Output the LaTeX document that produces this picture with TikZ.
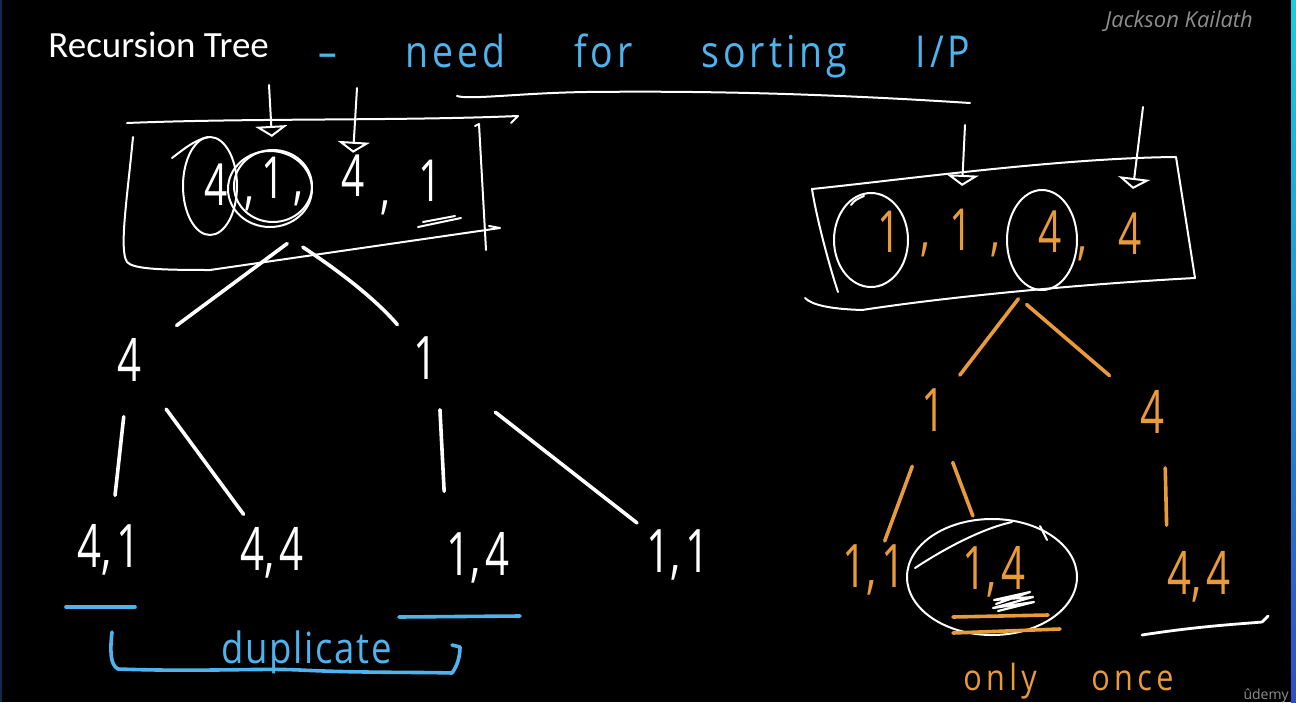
\documentclass[tikz,border=0pt]{standalone}
\usepackage{fontspec}
\setmainfont{Open Sans}
\newfontfamily\titlefont{Carlito}
\newfontfamily\handfont[FakeStretch=0.85, LetterSpace=9]{Open Sans}
\newfontfamily\handmid[FakeStretch=0.85, LetterSpace=12]{Open Sans}
\newfontfamily\handtight[FakeStretch=0.85, LetterSpace=4]{Open Sans}
\newfontfamily\digitfont[FakeStretch=0.7, WordSpace=0.4]{Open Sans}
\usetikzlibrary{positioning, arrows.meta}
\definecolor{chalkblue}{HTML}{4FB3EE}
\definecolor{chalkorange}{HTML}{E99A3A}
\definecolor{markgray}{HTML}{8E8E8E}
\definecolor{edgecyan}{HTML}{12D2E2}
\definecolor{edgeblue}{HTML}{2C4FC8}
\definecolor{edgenavy}{HTML}{0C2A52}

\begin{document}
\begin{tikzpicture}[x=0.5pt, y=-0.5pt, line cap=round, line join=round,
  chalk/.style={draw=white, line width=1pt},
  branch/.style={line width=1.8pt},
  digit/.style={font=\digitfont\fontsize{29}{31}\selectfont, inner sep=0pt},
  leaf/.style={font=\digitfont\fontsize{30}{32}\selectfont, inner sep=0pt},
  inarrow/.style={draw=white, line width=1pt, -{Triangle[open, length=5.5pt, width=16pt]}},
  scrawl/.style={font=\handfont\fontsize{22}{24}\selectfont, inner sep=0pt, anchor=base west}]

% board
\fill[black] (0,0) rectangle (1296,702);
\useasboundingbox (0,0) rectangle (1296,702);

% heading
\node[font=\titlefont\fontsize{18.5}{20}\selectfont, text=white, anchor=base west, inner sep=0pt] (title) at (48,57) {Recursion Tree};
\node[font=\itshape\fontsize{11}{13}\selectfont, text=markgray, anchor=base west, inner sep=0pt] (author) at (1105,27) {Jackson Kailath};
\node[scrawl, text=chalkblue] (need) at (318,67) {\makebox[326pt][l]{– \hfill need \hfill for \hfill sorting \hfill I/P}};
\draw[chalk] (457,96) .. controls (470,100) and (520,93) .. (586,92) .. controls (680,91) and (800,92) .. (970,103);

% left input box
\draw[chalk] (127,123) .. controls (250,118) and (400,121) .. (518,116) -- (511,123);
\draw[chalk] (133,137) .. controls (127,200) and (119,250) .. (127,262) .. controls (133,269) and (160,270) .. (210,270) -- (500,228) -- (489,226);
\draw[chalk] (475,126) -- (479,124) -- (486,250);

\node[digit, text=white] (a1) at (216,185) {4};
\node[digit, text=white] (c1) at (249,204) {,};
\node[digit, text=white] (a2) at (273,178) {1};
\node[digit, text=white] (c2) at (298,199) {,};
\node[digit, text=white] (a3) at (353,176) {4};
\node[digit, text=white] (c3) at (385,208) {,};
\node[digit, text=white] (a4) at (430,181) {1};

\draw[chalk] (210,186) ellipse [x radius=27, y radius=49];
\draw[chalk] (172,158) .. controls (185,148) and (195,140) .. (208,137);
\draw[chalk] (270,189) ellipse [x radius=42, y radius=38];
\draw[chalk] (273,186) ellipse [x radius=39, y radius=36];
\draw[chalk] (418,227) -- (461,218);
\draw[chalk] (423,222) -- (455,216);

\coordinate (a2top) at (269,85);
\coordinate (a3top) at (357,88);
\draw[inarrow, shorten >=10pt] (a2top) -- (a2.north);
\draw[inarrow, shorten >=1pt] (a3top) -- (a3.north);

% left tree
\coordinate (lroot) at (292,240);
\node[leaf, text=white] (n4) at (130,360) {4};
\node[leaf, text=white] (n1) at (426,358) {1};
\node[leaf, text=white] (l41) at (109,550) {4, 1};
\node[leaf, text=white] (l44) at (272,553) {4, 4};
\node[leaf, text=white] (l14) at (478,558) {1, 4};
\node[leaf, text=white] (l11) at (678,555) {1, 1};

\draw[branch, white, shorten <=3pt, shorten >=29pt] (lroot) -- (n4.center);
\draw[branch, white, shorten <=6.5pt, shorten >=22pt] (lroot) to[bend left=8] (n1.center);
\draw[branch, white, shorten <=28.5pt, shorten >=27.5pt] (n4.center) -- (l41.center);
\draw[branch, white, shorten <=30.5pt, shorten >=24pt] (n4.center) -- (l44.center);
\draw[branch, white, shorten <=15pt, shorten >=20.5pt] (n1.south east) -- (l14.north west);
\draw[branch, white, shorten <=44pt, shorten >=26pt] (n1.center) -- (l11.center);

\draw[chalkblue, branch] (66,607) -- (135,607);
\draw[chalkblue, branch] (399,617) -- (520,616);
\draw[chalkblue, branch] (112,632) .. controls (110,650) and (110,665) .. (118,669) .. controls (200,672) and (260,668) .. (300,670) .. controls (360,673) and (420,672) .. (452,673) .. controls (458,665) and (460,655) .. (460,647) -- (452,645);
\node[font=\handtight\fontsize{21.5}{23}\selectfont, text=chalkblue, anchor=base west, inner sep=0pt] (dup) at (221,663) {duplicate};

% right input box
\draw[chalk] (838,292) .. controls (828,262) and (816,215) .. (812,189) .. controls (900,180) and (1060,158) .. (1176,157) -- (1195,278) .. controls (1100,283) and (960,295) .. (862,310) .. controls (830,309) and (812,305) .. (805,298);

\node[digit, text=chalkorange] (r1) at (889,232) {1};
\node[digit, text=chalkorange] (d1) at (925,250) {,};
\node[digit, text=chalkorange] (r2) at (961,230) {1};
\node[digit, text=chalkorange] (d2) at (995,250) {,};
\node[digit, text=chalkorange] (r3) at (1050,232) {4};
\node[digit, text=chalkorange] (d3) at (1082,254) {,};
\node[digit, text=chalkorange] (r4) at (1130,234) {4};

\draw[chalk] (871,240) ellipse [x radius=37, y radius=47];
\draw[chalk] (851,205) .. controls (855,200) .. (864,196);
\draw[chalk] (1042,240) ellipse [x radius=35, y radius=50];

\coordinate (r2top) at (965,125);
\coordinate (r4top) at (1143,107);
\draw[inarrow, shorten >=11.5pt] (r2top) -- (r2.north);
\draw[inarrow, shorten >=12pt] (r4top) -- (r4.north);

% right tree
\coordinate (rroot) at (1019,298);
\node[leaf, text=chalkorange] (m1) at (933,410) {1};
\node[leaf, text=chalkorange] (m4) at (1152,412) {4};
\node[leaf, text=chalkorange] (k11) at (874,570) {1, 1};
\node[leaf, text=chalkorange] (k14) at (994,572) {1, 4};
\node[leaf, text=chalkorange] (k44) at (1199,577) {4, 4};

\draw[branch, chalkorange, shorten <=0.5pt, shorten >=22pt] (rroot) -- (m1.center);
\draw[branch, chalkorange, shorten <=5pt, shorten >=28pt] (rroot) -- (m4.center);
\draw[branch, chalkorange, shorten <=30pt, shorten >=15.5pt] (m1.center) -- (k11.center);
\draw[branch, chalkorange, shorten <=28pt, shorten >=30pt] (m1.center) -- (k14.center);
\draw[branch, chalkorange, shorten <=17pt, shorten >=13pt] (m4.south east) -- (k44.north west);

\draw[chalk] (992,577) ellipse [x radius=85, y radius=58];
\draw[chalk] (915,568) .. controls (950,545) and (985,528) .. (1012,522);
\draw[chalk] (1040,526) -- (1047,540);
\draw[chalk, line width=1.1pt] (996,604) -- (1030,592) -- (994,600) -- (1033,597) -- (993,608) -- (1034,602) -- (998,611);
\draw[chalkorange, branch] (953,617) -- (1048,615);
\draw[chalkorange, branch] (953,633) -- (1060,629);
\draw[chalk, line width=1.4pt] (1142,635) .. controls (1200,626) and (1240,624) .. (1262,622) -- (1268,616);
\node[scrawl, text=chalkorange, font=\handmid\fontsize{18}{20}\selectfont] (once) at (963,690) {\makebox[105pt][l]{only \hfill once}};

% frame edges
\node[font=\fontsize{7}{8}\selectfont, text=markgray, anchor=base east, inner sep=0pt] (brand) at (1289,699) {ûdemy};
\fill[edgenavy] (0,0) rectangle (2,702);
\shade[top color=edgecyan, bottom color=edgeblue] (1291,0) rectangle (1296,702);
\end{tikzpicture}
\end{document}
